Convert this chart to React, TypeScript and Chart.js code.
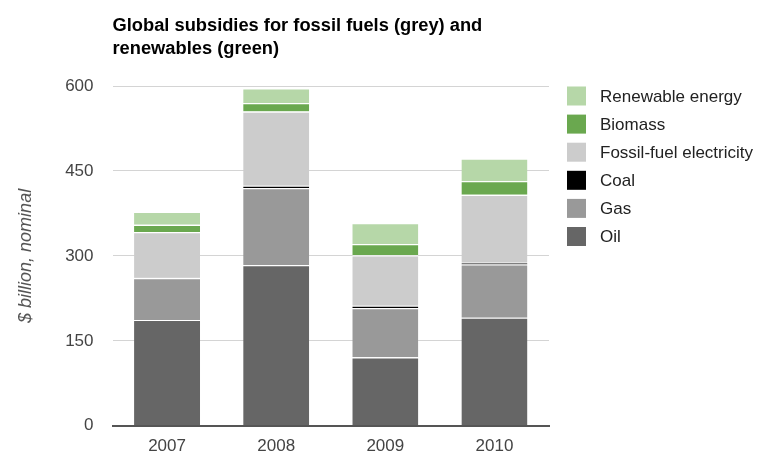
import { useEffect, useRef } from "react";
import { Chart, registerables } from "chart.js";

Chart.register(...registerables);

const categories = ["2007", "2008", "2009", "2010"];
const oil = [187, 284, 121, 191];
const gas = [74, 136, 87, 94];
const coal = [1, 4, 4, 3];
const fossilElectricity = [80, 131, 89, 120];
const biomass = [13, 15, 20, 24];
const renewableEnergy = [23, 26, 37, 40];
const yTicks = [0, 150, 300, 450, 600];

const titleLines = ["Global subsidies for fossil fuels (grey) and", "renewables (green)"];
const yAxisTitle = "$ billion, nominal";

const seriesLabels = ["Oil", "Gas", "Coal", "Fossil-fuel electricity", "Biomass", "Renewable energy"];
const seriesColors = ["#666666", "#999999", "#000000", "#cccccc", "#6aa84f", "#b6d7a8"];

const FONT = "'Liberation Sans', Arial, sans-serif";

const titlePlugin = {
  id: "customTitle",
  afterDraw(chart: any) {
    const ctx = chart.ctx;
    const left = chart.chartArea.left;
    ctx.save();
    ctx.font = `bold 18.3px ${FONT}`;
    ctx.fillStyle = "#000000";
    ctx.textAlign = "left";
    ctx.textBaseline = "alphabetic";
    titleLines.forEach((line, i) => {
      ctx.fillText(line, left, 30.5 + i * 23);
    });
    ctx.restore();
  },
};

const legendPlugin = {
  id: "customLegend",
  afterDraw(chart: any) {
    const ctx = chart.ctx;
    const area = chart.chartArea;
    const ds = chart.data.datasets.slice().reverse();
    ctx.save();
    ctx.font = `17px ${FONT}`;
    ctx.textAlign = "left";
    ctx.textBaseline = "middle";
    ds.forEach((d: any, i: number) => {
      const yc = area.top + 10 + i * 28.1;
      const bx = area.right + 18;
      ctx.fillStyle = d.backgroundColor;
      ctx.fillRect(bx, yc - 9.5, 19, 19);
      ctx.fillStyle = "#222222";
      ctx.fillText(d.label, bx + 33, yc + 1);
    });
    ctx.restore();
  },
};

export default function App() {
  const ref = useRef<HTMLCanvasElement | null>(null);

  useEffect(() => {
    if (!ref.current) return;
    const values = [oil, gas, coal, fossilElectricity, biomass, renewableEnergy];
    const chart = new Chart(ref.current, {
      type: "bar",
      data: {
        labels: categories,
        datasets: values.map((v, i) => ({
          label: seriesLabels[i],
          data: v,
          backgroundColor: seriesColors[i],
          borderColor: "#ffffff",
          borderWidth: { top: 1.2, left: 0, right: 0, bottom: 0 },
          borderSkipped: false,
          categoryPercentage: 1,
          barPercentage: 0.605,
        })),
      },
      options: {
        animation: false,
        responsive: true,
        maintainAspectRatio: false,
        layout: { padding: { top: 86, right: 211, bottom: 0, left: 0 } },
        plugins: {
          legend: { display: false },
          title: { display: false },
          tooltip: { enabled: false },
        },
        scales: {
          x: {
            stacked: true,
            grid: { display: false, drawTicks: false },
            border: { display: true, color: "#555555", width: 2 },
            ticks: { color: "#444444", font: { family: FONT, size: 17 }, padding: 10 },
            afterFit: (s: any) => {
              s.height = 28;
            },
          },
          y: {
            stacked: true,
            min: 0,
            max: 600,
            afterBuildTicks: (s: any) => {
              s.ticks = yTicks.map((v) => ({ value: v }));
            },
            grid: { color: "#d4d4d4", lineWidth: 1, drawTicks: false },
            border: { display: false },
            ticks: { color: "#444444", font: { family: FONT, size: 17 }, padding: 19 },
            title: {
              display: true,
              text: yAxisTitle,
              color: "#555555",
              font: { family: FONT, size: 18, style: "italic" },
              padding: { top: 15, bottom: 0 },
            },
            afterFit: (s: any) => {
              s.width = 112.5;
            },
          },
        },
      },
      plugins: [titlePlugin, legendPlugin],
    });
    return () => chart.destroy();
  }, []);

  return (
    <div style={{ position: "fixed", left: 0, top: 0, width: 760, height: 455, background: "#ffffff" }}>
      <canvas ref={ref} />
    </div>
  );
}
